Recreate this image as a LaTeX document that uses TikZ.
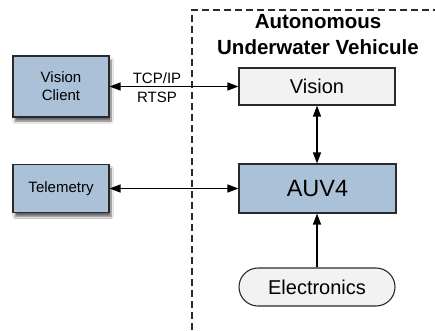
\documentclass[tikz,border=0pt]{standalone}
\usepackage{fontspec}
\setmainfont{Liberation Sans}
\usetikzlibrary{arrows.meta,shadows.blur}
\definecolor{boxblue}{HTML}{AAC1D8}
\definecolor{boxgrey}{HTML}{F2F2F2}
\definecolor{edgegrey}{HTML}{2A2A2A}
\tikzset{
  bluebox/.style={draw=edgegrey,line width=1.1pt,fill=boxblue,inner sep=0pt,align=center},
  shadowbox/.style={bluebox,blur shadow={shadow xshift=2pt,shadow yshift=-4pt,shadow blur steps=6,shadow opacity=60}},
  greybox/.style={draw=edgegrey,line width=1.1pt,fill=boxgrey,inner sep=0pt,align=center},
  conn/.style={line width=1.2pt,draw=black},
  tip/.tip={Triangle[length=11pt,width=8pt]},
  boundary/.style={draw=edgegrey,line width=1.2pt,dash pattern=on 7pt off 4pt},
  lbl/.style={font=\fontsize{15}{18}\selectfont,inner sep=0pt},
}
\begin{document}
\begin{tikzpicture}[x=1pt,y=-1pt]
\useasboundingbox (0,0) rectangle (435,330);
\fill[white] (0,0) rectangle (435,330);
% boundary
\coordinate (bb) at (192,330);
\coordinate (bc) at (192,10);
\coordinate (br) at (435,10);
\draw[boundary] (bb) -- (bc) -- (br);
% title
\node[font=\fontsize{20.5}{26}\selectfont\bfseries,align=center] (title) at (318,35) {Autonomous\\Underwater Vehicule};
% nodes
\node[shadowbox,minimum width=96pt,minimum height=61pt,font=\fontsize{15}{18}\selectfont] (vc) at (61,86.5) {Vision\\Client};
\node[shadowbox,minimum width=96pt,minimum height=48pt,font=\fontsize{15}{18}\selectfont] (tel) at (61,188.5) {Telemetry};
\node[greybox,minimum width=156pt,minimum height=37pt,font=\fontsize{20}{24}\selectfont] (vis) at (317,86.5) {Vision};
\node[bluebox,minimum width=157pt,minimum height=49pt,font=\fontsize{23.5}{28}\selectfont] (auv) at (317.5,188.5) {AUV4};
\node[greybox,minimum width=156pt,minimum height=38pt,rounded corners=19pt,font=\fontsize{20}{24}\selectfont] (ele) at (317,287) {Electronics};
% labels
\node[lbl] (l1) at (157,78) {TCP/IP};
\node[lbl] (l2) at (157,97) {RTSP};
% connectors
\draw[conn,{tip}-{tip}] (vc) -- (vis);
\draw[conn,{tip}-{tip}] (tel) -- (auv);
\draw[conn,{tip}-{tip}] (vis.south -| 317,0) -- (auv.north -| 317,0);
\draw[conn,-{tip}] (ele) -- (ele |- auv.south);
\end{tikzpicture}
\end{document}
